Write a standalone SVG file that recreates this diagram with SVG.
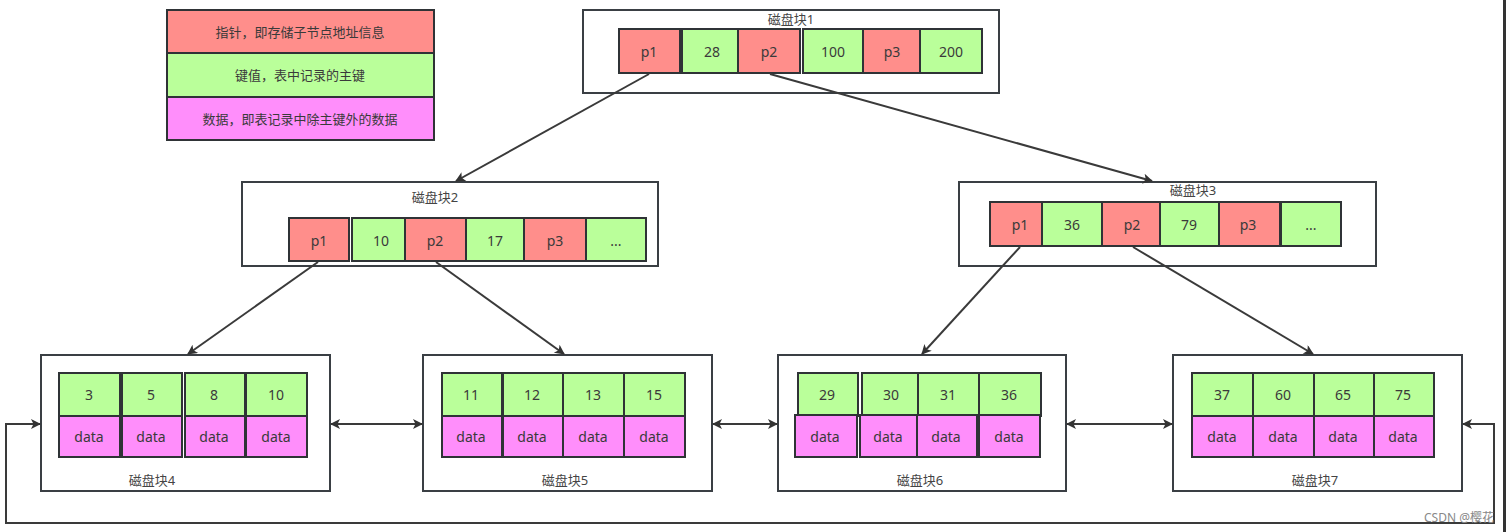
<svg xmlns="http://www.w3.org/2000/svg" width="1506" height="532" viewBox="0 0 1506 532">
<style>
.blk{fill:#fff;stroke:#3a3f44;stroke-width:2}
.r{fill:#FF8E8B;stroke:#2f3336;stroke-width:2}
.g{fill:#BAFF9A;stroke:#2f3336;stroke-width:2}
.m{fill:#FF8EFB;stroke:#2f3336;stroke-width:2}
text{font-family:"Noto Sans","Noto Sans CJK SC",sans-serif;font-size:14px;fill:#3a3a3a;text-anchor:middle;dominant-baseline:central}
.lbl{fill:#444;font-size:13px}
.lg{font-size:13px}
.wm{font-size:12px;fill:#888;text-anchor:start}
.c{fill:none;stroke:#3a3a3a;stroke-width:2}
</style>
<defs>
<marker id="ah" viewBox="0 0 10 10" refX="9" refY="5" markerWidth="11" markerHeight="10" orient="auto-start-reverse" markerUnits="userSpaceOnUse">
<path d="M0,0 L10,5 L0,10 L2.5,5 Z" fill="#333"/>
</marker>
</defs>
<rect width="1506" height="532" fill="#fff"/>
<rect x="1503" y="0" width="3" height="532" fill="#333"/>

<g id="legend">
<rect class="r" x="167" y="10" width="267" height="43"/>
<text class="lg" x="300" y="32">指针，即存储子节点地址信息</text>
<rect class="g" x="167" y="53" width="267" height="44"/>
<text class="lg" x="300" y="75">键值，表中记录的主键</text>
<rect class="m" x="167" y="97" width="267" height="43"/>
<text class="lg" x="300" y="119">数据，即表记录中除主键外的数据</text>
</g>

<g id="block1">
<rect class="blk" x="583" y="10" width="416" height="83"/>
<text class="lbl" x="791" y="19">磁盘块1</text>
<rect class="r" x="619" y="29" width="61" height="44"/><text x="649" y="51">p1</text>
<rect class="g" x="682" y="29" width="56" height="44"/><text x="712" y="51">28</text>
<rect class="r" x="738" y="29" width="62" height="44"/><text x="769" y="51">p2</text>
<rect class="g" x="803" y="29" width="60" height="44"/><text x="833" y="51">100</text>
<rect class="r" x="863" y="29" width="57" height="44"/><text x="892" y="51">p3</text>
<rect class="g" x="920" y="29" width="62" height="44"/><text x="951" y="51">200</text>
</g>

<g id="block2">
<rect class="blk" x="242" y="182" width="416" height="84"/>
<text class="lbl" x="435" y="197">磁盘块2</text>
<rect class="r" x="289" y="218" width="60" height="43"/><text x="319" y="240">p1</text>
<rect class="g" x="352" y="218" width="53" height="43"/><text x="381" y="240">10</text>
<rect class="r" x="405" y="218" width="61" height="43"/><text x="435" y="240">p2</text>
<rect class="g" x="466" y="218" width="58" height="43"/><text x="495" y="240">17</text>
<rect class="r" x="524" y="218" width="62" height="43"/><text x="555" y="240">p3</text>
<rect class="g" x="586" y="218" width="60" height="43"/><text x="616" y="240">...</text>
</g>

<g id="block3">
<rect class="blk" x="959" y="182" width="417" height="84"/>
<text class="lbl" x="1193" y="190">磁盘块3</text>
<rect class="r" x="990" y="202" width="52" height="44"/><text x="1020" y="224">p1</text>
<rect class="g" x="1042" y="202" width="60" height="44"/><text x="1072" y="224">36</text>
<rect class="r" x="1102" y="202" width="58" height="44"/><text x="1132" y="224">p2</text>
<rect class="g" x="1160" y="202" width="59" height="44"/><text x="1189" y="224">79</text>
<rect class="r" x="1219" y="202" width="61" height="44"/><text x="1248" y="224">p3</text>
<rect class="g" x="1281" y="202" width="60" height="44"/><text x="1311" y="224">...</text>
</g>

<g id="block4">
<rect class="blk" x="41" y="355" width="289" height="136"/>
<rect class="g" x="59" y="373" width="61" height="43"/><text x="89" y="394">3</text>
<rect class="g" x="122" y="373" width="60" height="43"/><text x="151" y="394">5</text>
<rect class="g" x="185" y="373" width="60" height="43"/><text x="214" y="394">8</text>
<rect class="g" x="246" y="373" width="61" height="43"/><text x="276" y="394">10</text>
<rect class="m" x="59" y="416" width="61" height="41"/><text x="89" y="436">data</text>
<rect class="m" x="122" y="416" width="60" height="41"/><text x="151" y="436">data</text>
<rect class="m" x="185" y="416" width="60" height="41"/><text x="214" y="436">data</text>
<rect class="m" x="246" y="416" width="61" height="41"/><text x="276" y="436">data</text>
<text class="lbl" x="152" y="480">磁盘块4</text>
</g>

<g id="block5">
<rect class="blk" x="423" y="355" width="289" height="136"/>
<rect class="g" x="442" y="373" width="60" height="43"/><text x="471" y="394">11</text>
<rect class="g" x="503" y="373" width="60" height="43"/><text x="532" y="394">12</text>
<rect class="g" x="563" y="373" width="61" height="43"/><text x="593" y="394">13</text>
<rect class="g" x="624" y="373" width="61" height="43"/><text x="654" y="394">15</text>
<rect class="m" x="442" y="416" width="60" height="41"/><text x="471" y="436">data</text>
<rect class="m" x="503" y="416" width="60" height="41"/><text x="532" y="436">data</text>
<rect class="m" x="563" y="416" width="61" height="41"/><text x="593" y="436">data</text>
<rect class="m" x="624" y="416" width="61" height="41"/><text x="654" y="436">data</text>
<text class="lbl" x="565" y="480">磁盘块5</text>
</g>

<g id="block6">
<rect class="blk" x="778" y="355" width="288" height="136"/>
<rect class="g" x="798" y="373" width="60" height="43"/><text x="827" y="394">29</text>
<rect class="g" x="862" y="373" width="56" height="43"/><text x="891" y="394">30</text>
<rect class="g" x="918" y="373" width="61" height="43"/><text x="948" y="394">31</text>
<rect class="g" x="979" y="373" width="62" height="43"/><text x="1009" y="394">36</text>
<rect class="m" x="795" y="415" width="62" height="42"/><text x="825" y="436">data</text>
<rect class="m" x="860" y="415" width="57" height="42"/><text x="888" y="436">data</text>
<rect class="m" x="917" y="415" width="60" height="42"/><text x="946" y="436">data</text>
<rect class="m" x="979" y="415" width="61" height="42"/><text x="1009" y="436">data</text>
<text class="lbl" x="920" y="480">磁盘块6</text>
</g>

<g id="block7">
<rect class="blk" x="1173" y="355" width="289" height="136"/>
<rect class="g" x="1192" y="373" width="61" height="43"/><text x="1222" y="394">37</text>
<rect class="g" x="1253" y="373" width="61" height="43"/><text x="1283" y="394">60</text>
<rect class="g" x="1314" y="373" width="60" height="43"/><text x="1343" y="394">65</text>
<rect class="g" x="1374" y="373" width="60" height="43"/><text x="1403" y="394">75</text>
<rect class="m" x="1192" y="416" width="61" height="41"/><text x="1222" y="436">data</text>
<rect class="m" x="1253" y="416" width="61" height="41"/><text x="1283" y="436">data</text>
<rect class="m" x="1314" y="416" width="60" height="41"/><text x="1343" y="436">data</text>
<rect class="m" x="1374" y="416" width="60" height="41"/><text x="1403" y="436">data</text>
<text class="lbl" x="1315" y="480">磁盘块7</text>
</g>

<g id="connectors">
<line class="c" x1="649" y1="74" x2="456" y2="181" marker-end="url(#ah)"/>
<line class="c" x1="770" y1="74" x2="1152" y2="181" marker-end="url(#ah)"/>
<line class="c" x1="318" y1="262" x2="188" y2="354" marker-end="url(#ah)"/>
<line class="c" x1="436" y1="262" x2="564" y2="354" marker-end="url(#ah)"/>
<line class="c" x1="1020" y1="247" x2="922" y2="354" marker-end="url(#ah)"/>
<line class="c" x1="1133" y1="247" x2="1313" y2="354" marker-end="url(#ah)"/>
<line class="c" x1="331" y1="424" x2="422" y2="424" marker-start="url(#ah)" marker-end="url(#ah)"/>
<line class="c" x1="713" y1="424" x2="777" y2="424" marker-start="url(#ah)" marker-end="url(#ah)"/>
<line class="c" x1="1067" y1="424" x2="1172" y2="424" marker-start="url(#ah)" marker-end="url(#ah)"/>
<path class="c" d="M40,424 H6 V523 H1494 V424 H1463" marker-start="url(#ah)" marker-end="url(#ah)"/>
</g>

<text class="wm" x="1424" y="517">CSDN @樱花</text>
</svg>
